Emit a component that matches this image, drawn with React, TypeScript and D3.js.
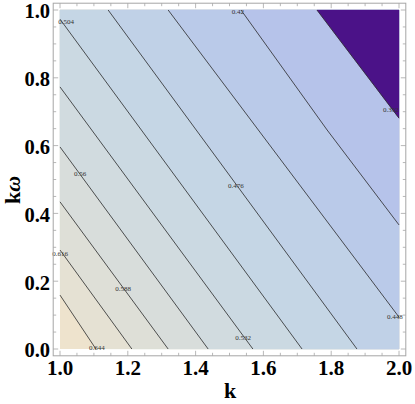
import React from "react";
import * as d3 from "d3";

// ---- data ----
const contourLevels = [0.644, 0.616, 0.588, 0.56, 0.532, 0.504, 0.476, 0.448, 0.42, 0.392];
// contour polylines (k, kω) from edge to edge
const contourK = [
  [1.0, 1.106],
  [1.0, 1.212],
  [1.0, 1.319],
  [1.0, 1.437],
  [1.0, 1.569],
  [1.0, 1.714],
  [1.142, 1.876],
  [1.319, 2.0],
  [1.534, 1.788, 2.0],
  [1.758, 2.0],
];
const contourW = [
  [0.159, 0.0],
  [0.292, 0.0],
  [0.434, 0.0],
  [0.596, 0.0],
  [0.773, 0.0],
  [0.973, 0.0],
  [1.0, 0.0],
  [1.0, 0.094],
  [1.0, 0.646, 0.366],
  [1.0, 0.681],
];
// contour label positions
const labelK = [1.109, 1.0, 1.186, 1.059, 1.54, 1.018, 1.519, 1.988, 1.525, 1.976];
const labelW = [0.003, 0.283, 0.177, 0.519, 0.035, 0.965, 0.481, 0.097, 0.994, 0.705];
// band colours, from highest band (> 0.644) to lowest (< 0.392)
const bandColors = [
  "#eee3cd", "#e5e1d3", "#dedfd7", "#d8dddb", "#d1dbdf", "#cbd9e2",
  "#c5d6e5", "#c0d1e7", "#bacae9", "#b6c3ea", "#4b1288",
];
const xTickLabels = ["1.0", "1.2", "1.4", "1.6", "1.8", "2.0"];
const yTickLabels = ["0.0", "0.2", "0.4", "0.6", "0.8", "1.0"];

const W = 415, H = 404;
const X0 = 60, X1 = 399, Y0 = 10, Y1 = 349;
const PAD = 6.8;
const FL = X0 - PAD, FR = X1 + PAD, FT = Y0 - PAD, FB = Y1 + PAD;

export default function App() {
  const x = d3.scaleLinear().domain([1, 2]).range([X0, X1]);
  const y = d3.scaleLinear().domain([0, 1]).range([Y1, Y0]);

  const lines = contourLevels.map((_, i) =>
    contourK[i].map((k, j) => [x(k), y(contourW[i][j])] as [number, number])
  );

  const eps = 0.5;
  const tOf = (p: [number, number]) => {
    const [px, py] = p;
    if (Math.abs(px - X0) < eps) return (Y1 - py) / (Y1 - Y0);
    if (Math.abs(py - Y0) < eps) return 1 + (px - X0) / (X1 - X0);
    if (Math.abs(px - X1) < eps) return 2 + (py - Y0) / (Y1 - Y0);
    return 3 + (X1 - px) / (X1 - X0);
  };
  const corners: Record<number, [number, number]> = {
    1: [X0, Y0],
    2: [X1, Y0],
    3: [X1, Y1],
  };
  const regions = lines.map((pts) => {
    const t0 = tOf(pts[0]);
    const tn = tOf(pts[pts.length - 1]);
    const cs = [3, 2, 1].filter((c) => c > t0 + 1e-6 && c < tn - 1e-6).map((c) => corners[c]);
    return [...pts, ...cs];
  });

  const lineGen = d3.line<[number, number]>();

  const minorX = d3.range(0, 21).map((i) => 1 + i * 0.05);
  const minorY = d3.range(0, 21).map((i) => i * 0.05);
  const isMajor = (i: number) => i % 4 === 0;
  const frameColor = "#a6a6a6";
  const serif = "'Liberation Serif', 'DejaVu Serif', serif";

  return (
    <svg width={W} height={H} style={{ position: "absolute", left: 0, top: 0 }} xmlns="http://www.w3.org/2000/svg">
      <rect x={0} y={0} width={W} height={H} fill="#ffffff" />
      <rect x={X0} y={Y0} width={X1 - X0} height={Y1 - Y0} fill={bandColors[0]} />
      {regions.map((poly, i) => (
        <path key={"r" + i} d={"M" + poly.map((p) => p.join(",")).join("L") + "Z"} fill={bandColors[i + 1]} stroke={bandColors[i + 1]} strokeWidth={0.3} />
      ))}
      {lines.map((pts, i) => (
        <path key={"l" + i} d={lineGen(pts) || ""} fill="none" stroke="#2a2a2a" strokeWidth={0.8} />
      ))}
      {contourLevels.map((lv, i) => (
        <text key={"t" + i} x={x(labelK[i])} y={y(labelW[i])} dy="0.35em" textAnchor="middle" fontFamily={serif} fontSize={7} fill="#333">
          {String(lv)}
        </text>
      ))}
      {/* frame */}
      <rect x={FL} y={FT} width={FR - FL} height={FB - FT} fill="none" stroke={frameColor} strokeWidth={1} />
      {minorX.map((k, i) => {
        const len = isMajor(i) ? 5 : 3;
        return (
          <g key={"xt" + i} stroke={frameColor} strokeWidth={0.8}>
            <line x1={x(k)} x2={x(k)} y1={FB} y2={FB - len} />
            <line x1={x(k)} x2={x(k)} y1={FT} y2={FT + len} />
          </g>
        );
      })}
      {minorY.map((w, i) => {
        const len = isMajor(i) ? 5 : 3;
        return (
          <g key={"yt" + i} stroke={frameColor} strokeWidth={0.8}>
            <line x1={FL} x2={FL + len} y1={y(w)} y2={y(w)} />
            <line x1={FR} x2={FR - len} y1={y(w)} y2={y(w)} />
          </g>
        );
      })}
      {xTickLabels.map((lab, i) => (
        <text key={"xl" + i} x={x(1 + i * 0.2)} y={375} textAnchor="middle" fontFamily={serif} fontWeight="bold" fontSize={21} fill="#000">
          {lab}
        </text>
      ))}
      {yTickLabels.map((lab, i) => (
        <text key={"yl" + i} x={50} y={y(i * 0.2) + 8.3} textAnchor="end" fontFamily={serif} fontWeight="bold" fontSize={20.5} fill="#000">
          {lab}
        </text>
      ))}
      <text x={230} y={398} textAnchor="middle" fontFamily={serif} fontWeight="bold" fontSize={22} fill="#000">k</text>
      <text transform="translate(20,190) rotate(-90)" textAnchor="middle" fontFamily={serif} fontWeight="bold" fontSize={22} fill="#000">
        k<tspan fontStyle="italic">ω</tspan>
      </text>
    </svg>
  );
}
